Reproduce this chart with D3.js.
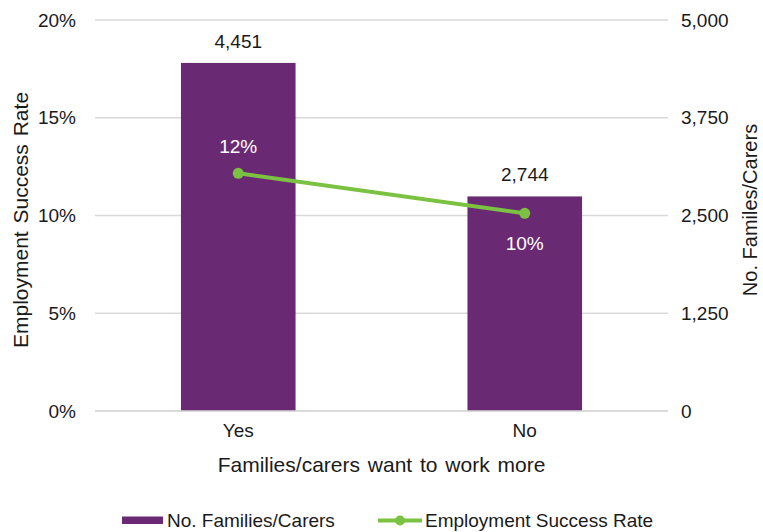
<!DOCTYPE html>
<html><head><meta charset="utf-8">
<script src="https://cdn.jsdelivr.net/npm/d3@7"></script>
<style>body{margin:0;background:#fff}text{font-family:"Liberation Sans",Arial,sans-serif}</style>
</head><body>
<svg id="c" width="763" height="532"></svg>
<script>
const categories = ["Yes", "No"];
const families = [4451, 2744];
const successRate = [0.1216, 0.1011];
const leftTicks = [0, 0.05, 0.10, 0.15, 0.20];
const rightTicks = [0, 1250, 2500, 3750, 5000];
const rateLabels = ["12%", "10%"];

const purple = "#6a2a73", green = "#7cc242", grid = "#d9d9d9", ink = "#1a1a1a";
const FONT = "Liberation Sans, Arial, sans-serif";
const svg = d3.select("#c");
const m = {l: 95, r: 668, t: 20, b: 411};
const x = d3.scaleBand().domain(categories).range([m.l, m.r]).paddingInner(0.6).paddingOuter(0.3);
const yL = d3.scaleLinear().domain([0, 0.2]).range([m.b, m.t]);
const yR = d3.scaleLinear().domain([0, 5000]).range([m.b, m.t]);

// gridlines
svg.append("g").selectAll("line").data(leftTicks).join("line")
  .attr("x1", m.l).attr("x2", m.r).attr("y1", d => yL(d)).attr("y2", d => yL(d))
  .attr("stroke", grid).attr("stroke-width", 1.3);

// left axis
const la = svg.append("g").attr("transform", `translate(${m.l},0)`)
  .call(d3.axisLeft(yL).tickValues(leftTicks).tickFormat(d3.format(".0%")).tickSize(0).tickPadding(19));
la.select(".domain").remove();
la.selectAll("text").attr("font-size", 19).attr("fill", ink).style("font-family", FONT);

// right axis
const ra = svg.append("g").attr("transform", `translate(${m.r},0)`)
  .call(d3.axisRight(yR).tickValues(rightTicks).tickFormat(d3.format(",")).tickSize(0).tickPadding(13));
ra.select(".domain").remove();
ra.selectAll("text").attr("font-size", 19).attr("fill", ink).style("font-family", FONT);

// bars
svg.append("g").selectAll("rect").data(categories).join("rect")
  .attr("x", d => x(d)).attr("width", x.bandwidth())
  .attr("y", (d, i) => yR(families[i])).attr("height", (d, i) => m.b - yR(families[i]))
  .attr("fill", purple);

// bottom axis line
svg.append("line").attr("x1", m.l).attr("x2", m.r).attr("y1", m.b).attr("y2", m.b)
  .attr("stroke", grid).attr("stroke-width", 1.3);

// x axis
const xa = svg.append("g").attr("transform", `translate(0,${m.b})`)
  .call(d3.axisBottom(x).tickSize(0).tickPadding(13));
xa.select(".domain").remove();
xa.selectAll("text").attr("font-size", 19).attr("fill", ink).style("font-family", FONT);

// bar labels
svg.append("g").selectAll("text").data(categories).join("text")
  .attr("x", d => x(d) + x.bandwidth() / 2).attr("y", (d, i) => yR(families[i]) - 15)
  .attr("text-anchor", "middle").attr("font-size", 19).attr("fill", ink)
  .text((d, i) => d3.format(",")(families[i]));

// line
const cx = d => x(d) + x.bandwidth() / 2;
svg.append("path").datum(categories)
  .attr("d", d3.line().x(d => cx(d)).y((d, i) => yL(successRate[i])))
  .attr("fill", "none").attr("stroke", green).attr("stroke-width", 4);
svg.append("g").selectAll("circle").data(categories).join("circle")
  .attr("cx", d => cx(d)).attr("cy", (d, i) => yL(successRate[i])).attr("r", 5.5).attr("fill", green);

// rate labels
svg.append("g").selectAll("text").data(categories).join("text")
  .attr("x", d => cx(d)).attr("y", (d, i) => yL(successRate[i]) + (i === 0 ? -20 : 37))
  .attr("text-anchor", "middle").attr("font-size", 19).attr("fill", "#fff")
  .text((d, i) => rateLabels[i]);

// axis titles
svg.append("text").attr("transform", "translate(28,220) rotate(-90)")
  .attr("text-anchor", "middle").attr("font-size", 21).attr("word-spacing", 2).attr("fill", ink).text("Employment Success Rate");
svg.append("text").attr("transform", "translate(757,210) rotate(-90)")
  .attr("text-anchor", "middle").attr("font-size", 20).attr("fill", ink).text("No. Familes/Carers");
svg.append("text").attr("x", (m.l + m.r) / 2).attr("y", 472)
  .attr("text-anchor", "middle").attr("font-size", 21).attr("word-spacing", 2).attr("fill", ink).text("Families/carers want to work more");

// legend
const lg = svg.append("g");
lg.append("rect").attr("x", 122).attr("y", 516.5).attr("width", 41).attr("height", 7.5).attr("fill", purple);
lg.append("text").attr("x", 167).attr("y", 527).attr("font-size", 19).attr("fill", ink).text("No. Families/Carers");
lg.append("line").attr("x1", 378).attr("x2", 422).attr("y1", 520.5).attr("y2", 520.5).attr("stroke", green).attr("stroke-width", 4);
lg.append("circle").attr("cx", 400).attr("cy", 520.5).attr("r", 5).attr("fill", green);
lg.append("text").attr("x", 425).attr("y", 527).attr("font-size", 19).attr("fill", ink).text("Employment Success Rate");
</script>
</body></html>
